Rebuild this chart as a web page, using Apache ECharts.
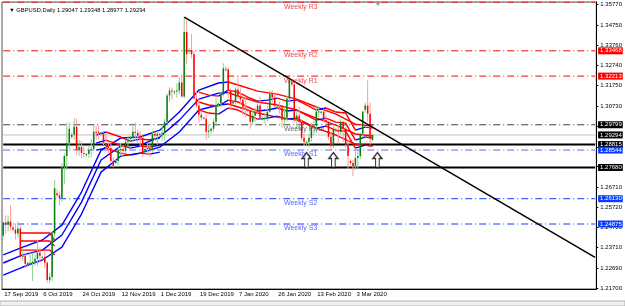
<!DOCTYPE html>
<html><head><meta charset="utf-8">
<script src="https://cdn.jsdelivr.net/npm/echarts@6/dist/echarts.min.js"></script>
<style>html,body{margin:0;padding:0;background:#fff}#c{width:625px;height:306px}</style>
</head><body><div id="c"></div>
<script>
const symbolName = 'GBPUSD,Daily';
const dates = [
'17 Sep 2019','18 Sep 2019','19 Sep 2019','20 Sep 2019','22 Sep 2019','23 Sep 2019','24 Sep 2019','25 Sep 2019','26 Sep 2019','27 Sep 2019','29 Sep 2019','30 Sep 2019',
'1 Oct 2019','2 Oct 2019','3 Oct 2019','4 Oct 2019','6 Oct 2019','7 Oct 2019','8 Oct 2019','9 Oct 2019','10 Oct 2019','11 Oct 2019','13 Oct 2019','14 Oct 2019','15 Oct 2019','16 Oct 2019','17 Oct 2019','18 Oct 2019','20 Oct 2019','21 Oct 2019','22 Oct 2019','23 Oct 2019','24 Oct 2019','25 Oct 2019','27 Oct 2019','28 Oct 2019','29 Oct 2019','30 Oct 2019','31 Oct 2019',
'1 Nov 2019','3 Nov 2019','4 Nov 2019','5 Nov 2019','6 Nov 2019','7 Nov 2019','8 Nov 2019','10 Nov 2019','11 Nov 2019','12 Nov 2019','13 Nov 2019','14 Nov 2019','15 Nov 2019','17 Nov 2019','18 Nov 2019','19 Nov 2019','20 Nov 2019','21 Nov 2019','22 Nov 2019','24 Nov 2019','25 Nov 2019','26 Nov 2019','27 Nov 2019','28 Nov 2019','29 Nov 2019',
'1 Dec 2019','2 Dec 2019','3 Dec 2019','4 Dec 2019','5 Dec 2019','6 Dec 2019','8 Dec 2019','9 Dec 2019','10 Dec 2019','11 Dec 2019','12 Dec 2019','13 Dec 2019','15 Dec 2019','16 Dec 2019','17 Dec 2019','18 Dec 2019','19 Dec 2019','20 Dec 2019','22 Dec 2019','23 Dec 2019','24 Dec 2019','25 Dec 2019','26 Dec 2019','27 Dec 2019','29 Dec 2019','30 Dec 2019','31 Dec 2019',
'1 Jan 2020','2 Jan 2020','3 Jan 2020','5 Jan 2020','6 Jan 2020','7 Jan 2020','8 Jan 2020','9 Jan 2020','10 Jan 2020','12 Jan 2020','13 Jan 2020','14 Jan 2020','15 Jan 2020','16 Jan 2020','17 Jan 2020','19 Jan 2020','20 Jan 2020','21 Jan 2020','22 Jan 2020','23 Jan 2020','24 Jan 2020','26 Jan 2020','27 Jan 2020','28 Jan 2020','29 Jan 2020','30 Jan 2020','31 Jan 2020',
'2 Feb 2020','3 Feb 2020','4 Feb 2020','5 Feb 2020','6 Feb 2020','7 Feb 2020','9 Feb 2020','10 Feb 2020','11 Feb 2020','12 Feb 2020','13 Feb 2020','14 Feb 2020','16 Feb 2020','17 Feb 2020','18 Feb 2020','19 Feb 2020','20 Feb 2020','21 Feb 2020','23 Feb 2020','24 Feb 2020','25 Feb 2020','26 Feb 2020','27 Feb 2020','28 Feb 2020',
'1 Mar 2020','2 Mar 2020','3 Mar 2020','4 Mar 2020','5 Mar 2020','6 Mar 2020','8 Mar 2020','9 Mar 2020','10 Mar 2020','11 Mar 2020'
];
// [open, high, low, close]
const ohlc = [
[1.2430,1.2500,1.2420,1.2495],[1.2495,1.2530,1.2440,1.2485],[1.2485,1.2530,1.2450,1.2500],[1.2500,1.2582,1.2455,1.2475],
[1.2470,1.2478,1.2450,1.2460],[1.2460,1.2490,1.2410,1.2440],[1.2440,1.2500,1.2420,1.2465],[1.2465,1.2480,1.2315,1.2325],[1.2325,1.2370,1.2305,1.2330],[1.2330,1.2345,1.2270,1.2290],
[1.2285,1.2300,1.2280,1.2295],[1.2295,1.2345,1.2280,1.2295],[1.2295,1.2345,1.2205,1.2300],[1.2300,1.2338,1.2280,1.2315],[1.2315,1.2410,1.2280,1.2345],[1.2345,1.2373,1.2300,1.2330],
[1.2320,1.2330,1.2310,1.2325],[1.2325,1.2350,1.2270,1.2295],[1.2295,1.2300,1.2196,1.2210],[1.2210,1.2245,1.2195,1.2225],[1.2225,1.2450,1.2205,1.2440],[1.2440,1.2708,1.2420,1.2665],
[1.2640,1.2660,1.2620,1.2630],[1.2630,1.2650,1.2580,1.2615],[1.2615,1.2790,1.2600,1.2770],[1.2770,1.2840,1.2685,1.2825],[1.2825,1.2990,1.2755,1.2890],[1.2890,1.2990,1.2860,1.2960],
[1.2920,1.2940,1.2910,1.2930],[1.2930,1.3013,1.2905,1.2970],[1.2970,1.3010,1.2830,1.2855],[1.2855,1.2905,1.2825,1.2870],[1.2870,1.2900,1.2815,1.2840],[1.2840,1.2880,1.2815,1.2835],
[1.2830,1.2840,1.2820,1.2835],[1.2835,1.2878,1.2815,1.2855],[1.2855,1.2908,1.2820,1.2860],[1.2860,1.2978,1.2850,1.2945],[1.2945,1.2976,1.2905,1.2940],[1.2945,1.2975,1.2905,1.2940],
[1.2935,1.2945,1.2925,1.2940],[1.2940,1.2950,1.2880,1.2890],[1.2890,1.2940,1.2850,1.2875],[1.2875,1.2895,1.2840,1.2865],[1.2865,1.2895,1.2795,1.2800],[1.2800,1.2820,1.2768,1.2775],
[1.2790,1.2810,1.2785,1.2800],[1.2800,1.2870,1.2780,1.2855],[1.2855,1.2890,1.2825,1.2860],[1.2860,1.2880,1.2815,1.2850],[1.2850,1.2905,1.2835,1.2895],[1.2895,1.2925,1.2870,1.2905],
[1.2910,1.2925,1.2905,1.2915],[1.2915,1.2988,1.2895,1.2945],[1.2945,1.2990,1.2900,1.2940],[1.2940,1.2955,1.2890,1.2925],[1.2925,1.2950,1.2870,1.2915],[1.2915,1.2925,1.2823,1.2835],
[1.2845,1.2870,1.2840,1.2860],[1.2860,1.2890,1.2835,1.2865],[1.2865,1.2882,1.2820,1.2855],[1.2855,1.2950,1.2840,1.2935],[1.2935,1.2945,1.2900,1.2925],[1.2925,1.2950,1.2880,1.2935],
[1.2930,1.2940,1.2920,1.2935],[1.2935,1.2975,1.2900,1.2940],[1.2940,1.3010,1.2900,1.2995],[1.2995,1.3135,1.2985,1.3125],[1.3125,1.3165,1.3095,1.3150],[1.3150,1.3165,1.3105,1.3145],
[1.3140,1.3150,1.3130,1.3145],[1.3145,1.3185,1.3115,1.3150],[1.3150,1.3215,1.3130,1.3190],[1.3190,1.3230,1.3115,1.3120],[1.3120,1.3514,1.3110,1.3440],[1.3440,1.3500,1.3280,1.3330],
[1.3345,1.3360,1.3330,1.3350],[1.3350,1.3430,1.3310,1.3330],[1.3330,1.3345,1.3105,1.3110],[1.3110,1.3145,1.3065,1.3075],[1.3075,1.3110,1.2990,1.3030],[1.3030,1.3055,1.3000,1.3015],
[1.3015,1.3020,1.3005,1.3010],[1.3010,1.3025,1.2905,1.2945],[1.2945,1.2980,1.2915,1.2950],[1.2950,1.2965,1.2935,1.2960],[1.2960,1.3010,1.2945,1.2995],[1.2995,1.3115,1.2980,1.3075],
[1.3080,1.3090,1.3070,1.3085],[1.3085,1.3145,1.3065,1.3130],[1.3130,1.3285,1.3120,1.3260],
[1.3255,1.3270,1.3245,1.3255],[1.3255,1.3265,1.3115,1.3150],[1.3150,1.3160,1.3055,1.3080],
[1.3085,1.3100,1.3080,1.3095],[1.3095,1.3165,1.3080,1.3155],[1.3155,1.3215,1.3110,1.3120],[1.3120,1.3160,1.3080,1.3105],[1.3105,1.3125,1.3030,1.3065],[1.3065,1.3120,1.3015,1.3060],
[1.3055,1.3065,1.3045,1.3050],[1.3050,1.3055,1.2960,1.2995],[1.2995,1.3050,1.2980,1.3025],[1.3025,1.3065,1.2995,1.3045],[1.3045,1.3085,1.3030,1.3075],[1.3075,1.3120,1.3010,1.3015],
[1.3010,1.3020,1.3000,1.3010],[1.3010,1.3040,1.2985,1.3012],[1.3010,1.3075,1.2995,1.3045],[1.3045,1.3150,1.3040,1.3135],[1.3135,1.3150,1.3090,1.3115],[1.3115,1.3140,1.3065,1.3075],
[1.3070,1.3080,1.3060,1.3070],[1.3070,1.3095,1.3035,1.3065],[1.3065,1.3066,1.2965,1.3005],[1.3005,1.3070,1.2975,1.3015],[1.3015,1.3125,1.2995,1.3110],[1.3110,1.3210,1.3080,1.3205],
[1.3190,1.3200,1.3170,1.3180],[1.3180,1.3195,1.2990,1.3005],[1.3005,1.3050,1.2960,1.3025],[1.3025,1.3070,1.2960,1.2995],[1.2995,1.3005,1.2900,1.2915],[1.2915,1.2935,1.2875,1.2895],
[1.2890,1.2900,1.2880,1.2895],[1.2895,1.2935,1.2870,1.2915],[1.2915,1.2990,1.2895,1.2970],[1.2970,1.3000,1.2930,1.2975],[1.2975,1.3070,1.2940,1.3045],[1.3045,1.3070,1.3015,1.3046],
[1.3040,1.3050,1.3030,1.3045],[1.3045,1.3060,1.3000,1.3005],[1.3005,1.3030,1.2985,1.2995],[1.2995,1.3000,1.2905,1.2920],[1.2920,1.2945,1.2850,1.2875],[1.2875,1.2975,1.2865,1.2960],
[1.2955,1.2965,1.2940,1.2950],[1.2950,1.2975,1.2890,1.2945],[1.2945,1.3010,1.2930,1.2995],[1.2995,1.3000,1.2895,1.2960],[1.2960,1.2980,1.2865,1.2880],[1.2880,1.2905,1.2760,1.2825],
[1.2800,1.2810,1.2780,1.2790],[1.2790,1.2805,1.2725,1.2775],[1.2775,1.2855,1.2755,1.2815],[1.2815,1.2850,1.2765,1.2825],[1.2825,1.2940,1.2810,1.2935],[1.2935,1.3050,1.2915,1.3045],
[1.3055,1.3090,1.3040,1.3075],[1.3075,1.3200,1.2995,1.3035],[1.3035,1.3090,1.2880,1.2910],[1.29047,1.29348,1.28977,1.29294]
];
const yTicks = [1.21700,1.22690,1.23710,1.24700,1.25720,1.26710,1.27720,1.28700,1.29720,1.30730,1.31750,1.32740,1.33760,1.34750,1.35770];
const levelNames = ['Weekly R3','Weekly R2','Weekly R1','Weekly Pivot','Weekly S1','Weekly S2','Weekly S3'];
const levelValues = [1.35882,1.33468,1.32213,1.29799,1.28544,1.26130,1.24875];
const levelLabelIndex = 115;
const supportLines = [1.28815,1.27680];
const lastPrice = 1.29294;
const trendline = [[74,1.3514],[242,1.2322]];
const arrowMarks = [[124,1.2805],[135,1.2805],[153,1.2805]];
// slow envelope (3 lines)
const slowTop = [[0,1.2334],[8,1.2373],[16,1.2408],[24,1.2482],[32,1.2646],[40,1.2854],[48,1.2914],[56,1.2919],[64,1.2953],[72,1.3043],[80,1.3152],[88,1.3187],[92,1.3192],[96,1.3177],[104,1.3147],[112,1.3132],[120,1.3107],[128,1.3068],[136,1.3033],[144,1.2983],[151,1.2973]];
const slowMid = [[0,1.2294],[8,1.2334],[16,1.2358],[24,1.2433],[32,1.2596],[40,1.2805],[48,1.2874],[56,1.2879],[64,1.2919],[72,1.3003],[80,1.3107],[88,1.3137],[92,1.3140],[96,1.3122],[104,1.3093],[112,1.3078],[120,1.3053],[128,1.3013],[136,1.2978],[144,1.2934],[151,1.2924]];
const slowBot = [[0,1.2234],[8,1.2274],[16,1.2309],[24,1.2373],[32,1.2537],[40,1.2745],[48,1.2824],[56,1.2839],[64,1.2869],[72,1.2944],[80,1.3053],[88,1.3078],[92,1.3083],[96,1.3068],[104,1.3038],[112,1.3018],[120,1.3003],[128,1.2963],[136,1.2929],[144,1.2884],[151,1.2874]];
// fast envelope (3 lines)
const fastTop = [[7,1.2443],[19,1.2443],[21,1.2408],null,[38,1.2929],[42,1.2944],[48,1.2919],[52,1.2899],[56,1.2909],[60,1.2904],[64,1.2914],null,[80,1.3142],[84,1.3127],[88,1.3122],[92,1.3152],[96,1.3142],[100,1.3117],[104,1.3097],[108,1.3102],[112,1.3112],[116,1.3097],[120,1.3102],[124,1.3078],[128,1.3053],[132,1.3063],[136,1.3043],[140,1.3038],[144,1.2953],[148,1.2968],[151,1.2963]];
const fastMid = [[7,1.2403],[19,1.2403],[21,1.2378],null,[38,1.2889],[42,1.2904],[48,1.2879],[52,1.2864],[56,1.2874],[60,1.2869],[64,1.2879],null,[80,1.3093],[84,1.3078],[88,1.3073],[92,1.3102],[96,1.3093],[100,1.3068],[104,1.3048],[108,1.3053],[112,1.3063],[116,1.3048],[120,1.3053],[124,1.3028],[128,1.3003],[132,1.3013],[136,1.2993],[140,1.2988],[144,1.2904],[148,1.2919],[151,1.2914]];
const fastBot = [[7,1.2358],[19,1.2358],[21,1.2334],null,[38,1.2854],[42,1.2864],[48,1.2839],[52,1.2829],[56,1.2839],[60,1.2834],[64,1.2844],null,[80,1.3053],[84,1.3038],[88,1.3033],[92,1.3063],[96,1.3053],[100,1.3028],[104,1.3008],[108,1.3013],[112,1.3023],[116,1.3008],[120,1.3013],[124,1.2988],[128,1.2963],[132,1.2973],[136,1.2953],[140,1.2948],[144,1.2864],[148,1.2879],[151,1.2874]];

// ---- styles ----
const FONT = 'Liberation Sans';
const BULL_BODY = '#0b7d0b', BULL_WICK = '#8fcf8f', BEAR_BODY = '#ff0000', BEAR_WICK = '#ff9a9a';
const UP_COLOR = '#0000ff', DOWN_COLOR = '#ff0000';
const levelLineColors = ['#ff0000','#ff0000','#ff0000','#404040','#5a6cff','#1a35ff','#1a35ff'];
const levelTextColors = ['#e02020','#e02020','#e02020','#404040','#2a3cff','#2a3cff','#2a3cff'];
const levelBoxColors = [null,'#ff0000','#ff0000','#000000','#0a3cff','#0a3cff','#0a3cff'];
const DASHDOT = [7,3,1,3];
const TOTAL_SLOTS = 243;

const axisDates = dates.concat(new Array(TOTAL_SLOTS - dates.length).fill(''));
const candleData = ohlc.map((r, i) => [i, r[0], r[1], r[2], r[3]]);
const last = ohlc[ohlc.length - 1];

function slopeRuns(pts) {
  const runs = []; let cur = null;
  for (let k = 1; k < pts.length; k++) {
    const a = pts[k-1], b = pts[k];
    if (!a || !b) { cur = null; continue; }
    const up = b[1] > a[1];
    if (cur && cur.up === up) cur.data.push(b);
    else { cur = {up, data: [a, b]}; runs.push(cur); }
  }
  return runs;
}
const envSeries = [];
[slowTop, slowMid, slowBot, fastTop, fastMid, fastBot].forEach(line => {
  slopeRuns(line).forEach(run => envSeries.push({
    type: 'line', data: run.data, showSymbol: false, silent: true, z: 2,
    lineStyle: {color: run.up ? UP_COLOR : DOWN_COLOR, width: 1.4}, animation: false
  }));
});

// horizontal level lines: one line series each, spanning the whole category axis
function hLine(value, color, type, width, boxBg, z) {
  return {
    type: 'line', data: [[0, value], [TOTAL_SLOTS - 1, value]], showSymbol: false, silent: true, z: z,
    animation: false, lineStyle: {color: color, type: type, width: width},
    endLabel: boxBg ? {show: true, distance: 3, formatter: () => value.toFixed(5),
      backgroundColor: boxBg, color: '#fff', fontSize: 6, fontFamily: FONT, padding: [1, 1, 0, 2]} : {show: false}
  };
}
const levelSeries = [];
supportLines.forEach(v => levelSeries.push(hLine(v, '#000000', 'solid', 2, '#000000', 1)));
levelSeries.push(hLine(lastPrice, '#c0c0c0', 'solid', 1, '#000000', 1));
levelValues.forEach((v, k) => levelSeries.push(hLine(v, levelLineColors[k], DASHDOT, 1, levelBoxColors[k], 1)));

const chart = echarts.init(document.getElementById('c'), null, {renderer: 'canvas'});
chart.setOption({
  animation: false,
  backgroundColor: '#fff',
  title: {text: '\u25BC ' + symbolName + ' ' + last.map(v => v.toFixed(5)).join(' '), left: 4, top: 2,
    textStyle: {fontSize: 5.8, fontWeight: 'normal', color: '#000', fontFamily: FONT}},
  grid: {left: 2, right: 27, top: 2, bottom: 17, show: true, borderColor: '#555', borderWidth: 1},
  xAxis: {type: 'category', data: axisDates, boundaryGap: true,
    axisLine: {lineStyle: {color: '#000'}},
    axisTick: {interval: 15, alignWithLabel: true, length: 5, lineStyle: {color: '#000'}},
    axisLabel: {interval: 15, align: 'left', margin: 2, fontSize: 6, color: '#000', fontFamily: FONT, padding: [0,0,0,1]},
    splitLine: {show: false}},
  yAxis: {type: 'value', position: 'right', min: 1.2165, max: 1.3589,
    axisLine: {show: true, lineStyle: {color: '#000'}},
    axisTick: {show: true, length: 2, customValues: yTicks, lineStyle: {color: '#000'}},
    axisLabel: {customValues: yTicks, formatter: v => v.toFixed(5), fontSize: 6, color: '#000', fontFamily: FONT, margin: 4},
    splitLine: {show: false}},
  graphic: [
    {type: 'polygon', shape: {points: [[374, 1], [382, 1], [378, 6]]}, style: {fill: '#a8a8a8'}},
    {type: 'rect', shape: {x: 0, y: 301, width: 625, height: 5}, style: {fill: '#f0f0f0', stroke: '#b0b0b0', lineWidth: 1}}
  ],
  series: [
    ...levelSeries,
    {type: 'scatter', z: 6, silent: true, symbolSize: 1,
     data: levelValues.map((v, k) => ({value: [levelLabelIndex, v], label: {color: levelTextColors[k]}})),
     itemStyle: {color: 'rgba(0,0,0,0)'},
     label: {show: true, position: [0, 1.5], formatter: p => levelNames[p.dataIndex], fontSize: 7, fontFamily: FONT},
     labelLayout: {hideOverlap: false}},
    ...envSeries,
    {type: 'custom', data: candleData, z: 3, clip: true, silent: true,
     encode: {x: 0, y: [1, 2, 3, 4]},
     renderItem: (params, api) => {
       const i = api.value(0), o = api.value(1), h = api.value(2), l = api.value(3), c = api.value(4);
       const pO = api.coord([i, o]), pC = api.coord([i, c]), pH = api.coord([i, h]), pL = api.coord([i, l]);
       const w = api.size([1, 0])[0] * 0.62;
       const up = c >= o;
       const top = Math.min(pO[1], pC[1]);
       return {type: 'group', children: [
         {type: 'line', shape: {x1: pH[0], y1: pH[1], x2: pL[0], y2: pL[1]}, style: {stroke: up ? BULL_WICK : BEAR_WICK, lineWidth: 1}},
         {type: 'rect', shape: {x: pO[0] - w / 2, y: top, width: w, height: Math.max(1, Math.abs(pO[1] - pC[1]))}, style: {fill: up ? BULL_BODY : BEAR_BODY}}
       ]};
     }},
    {type: 'line', data: trendline, showSymbol: false, silent: true, z: 4,
     lineStyle: {color: '#000', width: 1.5}},
    {type: 'scatter', data: arrowMarks, z: 5, silent: true,
     symbol: 'path://M5,0 L10,6 L7,6 L7,15 L3,15 L3,6 L0,6 Z', symbolSize: [9, 15],
     itemStyle: {color: '#fff', borderColor: '#000', borderWidth: 1.3}}
  ]
});
</script></body></html>
